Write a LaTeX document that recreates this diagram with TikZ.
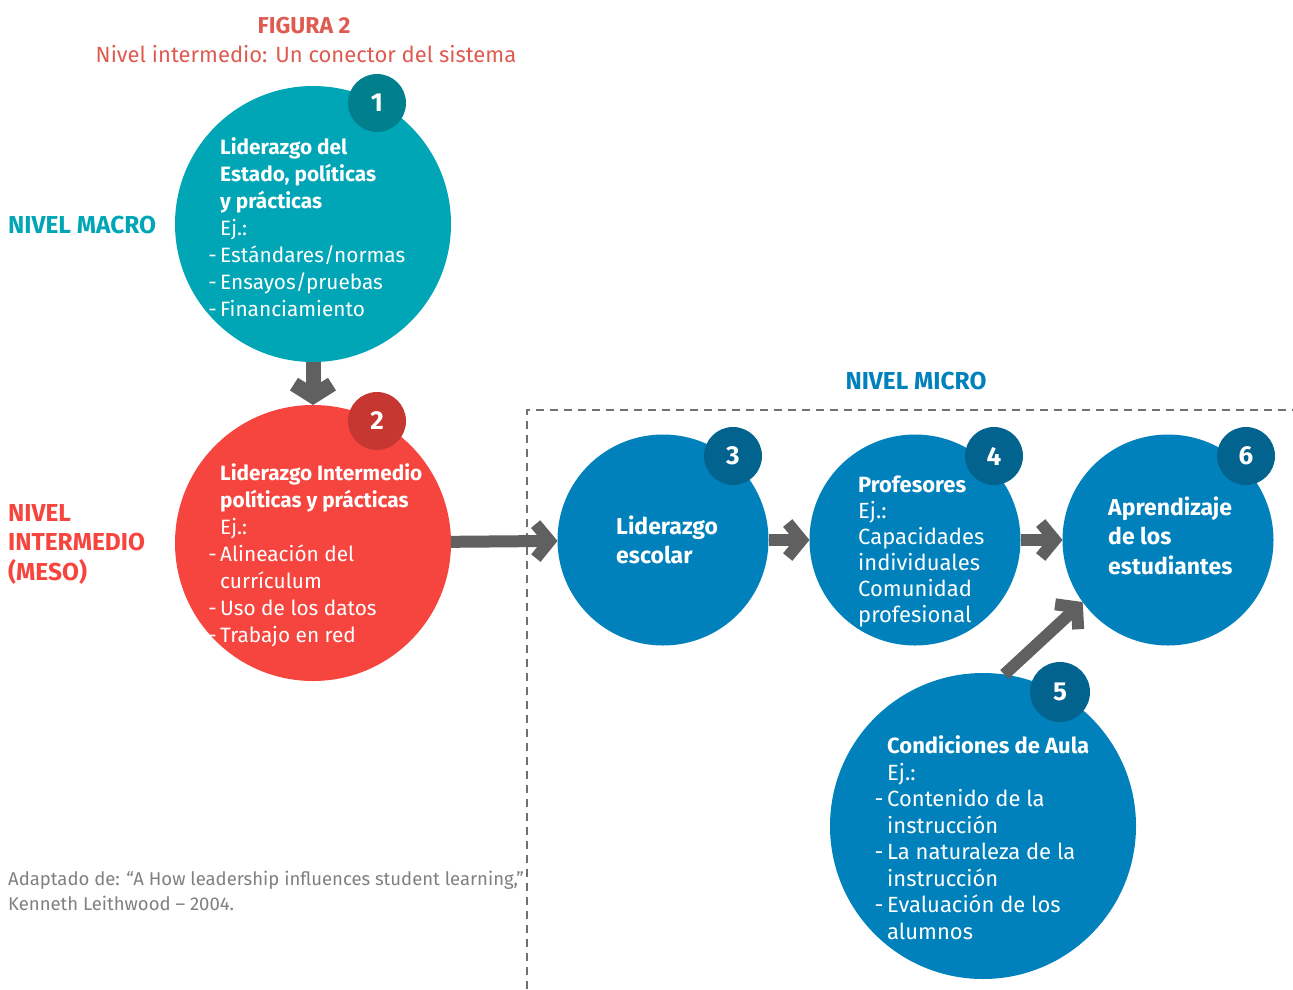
\documentclass[tikz,border=0pt]{standalone}
\usepackage{fontspec}
\setmainfont{Fira Sans}
\usetikzlibrary{arrows.meta}
\definecolor{macro}{HTML}{00A6B6}
\definecolor{macroosc}{HTML}{00808D}
\definecolor{meso}{HTML}{F6443E}
\definecolor{mesoosc}{HTML}{C63731}
\definecolor{micro}{HTML}{0081BC}
\definecolor{microosc}{HTML}{02638F}
\definecolor{titulo}{HTML}{DE5B52}
\definecolor{gris}{HTML}{606060}
\definecolor{grisnota}{HTML}{808080}
\newcommand{\guion}{\llap{-\,}}

\begin{document}
\begin{tikzpicture}[x=1pt,y=-1pt,
    circulo/.style={circle,minimum size=#1,inner sep=0pt,outer sep=0pt},
    numero/.style={circle,minimum size=58pt,inner sep=0pt,text=white,
      font=\fontsize{26}{26}\selectfont\bfseries},
    texto/.style={anchor=base west,align=left,text=white,inner sep=0pt,
      font=\fontsize{20.8}{27}\selectfont},
    flecha/.style={draw=gris,line width=12pt,-{Straight Barb[length=14pt,width=34pt]}},
    nivel/.style={anchor=base west,align=left,inner sep=0pt,
      font=\fontsize{24.5}{29.5}\selectfont\bfseries}]
  \useasboundingbox (0,0) rectangle (1293,989);
  % titulo
  \node[anchor=base,inner sep=0pt,text=titulo,font=\fontsize{23}{23}\selectfont\bfseries] (fig) at (304,33) {FIGURA 2};
  \node[anchor=base,inner sep=0pt,text=titulo,font=\fontsize{22}{22}\selectfont] (sub) at (306,62) {Nivel intermedio: Un conector del sistema};
  % niveles
  \node[nivel,text=macro] (lmacro) at (8,233) {NIVEL MACRO};
  \node[nivel,text=meso] (lmeso) at (8,580) {NIVEL\\INTERMEDIO\\(MESO)};
  \node[nivel,text=micro,anchor=base] (lmicro) at (916,389) {NIVEL MICRO};
  \draw[gris!90,line width=2pt,dash pattern=on 8pt off 6pt] (527,989) -- (527,410) -- (1293,410);
  % circulos
  \node[circulo=276pt,fill=macro] (c1) at (313,224) {};
  \node[circulo=276pt,fill=meso] (c2) at (313,543) {};
  \node[circulo=211pt,fill=micro] (c3) at (663,540) {};
  \node[circulo=211pt,fill=micro] (c4) at (915,540) {};
  \node[circulo=306pt,fill=micro] (c5) at (983,826) {};
  \node[circulo=211pt,fill=micro] (c6) at (1168,540) {};
  \node[numero,fill=macroosc] (b1) at (377,103) {1};
  \node[numero,fill=mesoosc] (b2) at (377,421) {2};
  \node[numero,fill=microosc] (b3) at (733,456) {3};
  \node[numero,fill=microosc] (b4) at (994,456) {4};
  \node[numero,fill=microosc,minimum size=60pt] (b5) at (1060,692) {5};
  \node[numero,fill=microosc] (b6) at (1246,456) {6};
  % textos
  \node[texto] (t1) at (220,316) {{\bfseries Liderazgo del}\\{\bfseries Estado, políticas}\\{\bfseries y prácticas}\\Ej.:\\\guion Estándares/normas\\\guion Ensayos/pruebas\\\guion Financiamiento};
  \node[texto] (t2) at (220,642) {{\bfseries Liderazgo Intermedio}\\{\bfseries políticas y prácticas}\\Ej.:\\\guion Alineación del\\currículum\\\guion Uso de los datos\\\guion Trabajo en red};
  \node[texto,font=\fontsize{23}{29}\selectfont\bfseries] (t3) at (616,563) {Liderazgo\\escolar};
  \node[texto,font=\fontsize{22}{26}\selectfont] (t4) at (858,622) {{\bfseries Profesores}\\Ej.:\\Capacidades\\individuales\\Comunidad\\profesional};
  \node[texto,font=\fontsize{23}{29.5}\selectfont\bfseries] (t6) at (1108,574) {Aprendizaje\\de los\\estudiantes};
  \node[texto,font=\fontsize{22}{26.5}\selectfont] (t5) at (887,939) {{\bfseries Condiciones de Aula}\\Ej.:\\\guion Contenido de la\\instrucción\\\guion La naturaleza de la\\instrucción\\\guion Evaluación de los\\alumnos};
  % flechas
  \draw[flecha,line width=15pt,-{Straight Barb[length=12pt,width=38pt]}] (c1) -- (c2);
  \draw[flecha] (c2) -- (c3);
  \draw[flecha] (c3) -- (c4);
  \draw[flecha] (c4) -- (c6);
  \draw[flecha] (c5.82) -- (c6.216);
  % nota
  \node[anchor=base west,align=left,inner sep=0pt,text=grisnota,font=\fontsize{18.5}{25}\selectfont] (nota) at (8,910) {Adaptado de: “A How leadership influences student learning,”\\Kenneth Leithwood – 2004.};
\end{tikzpicture}
\end{document}
